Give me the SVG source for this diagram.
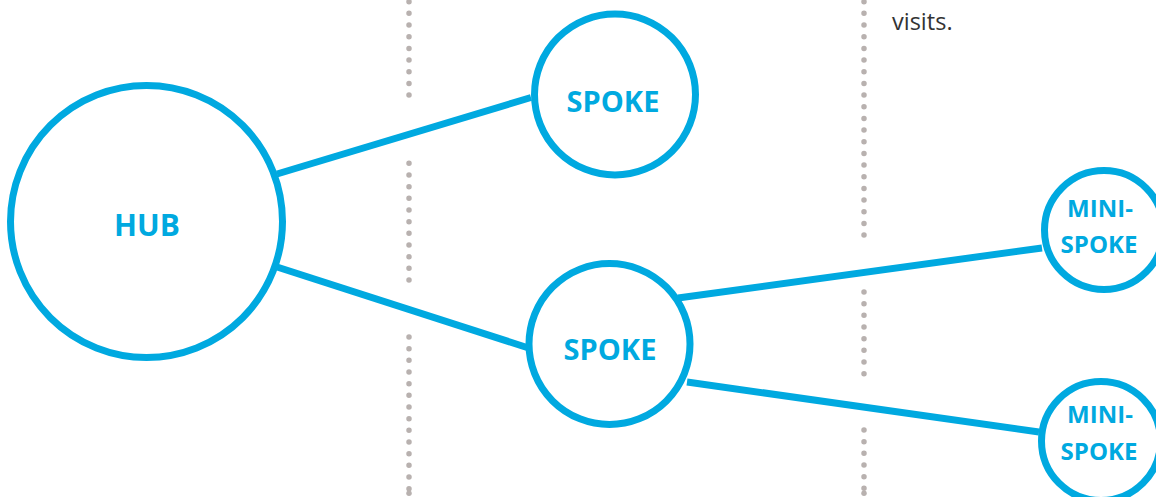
<svg xmlns="http://www.w3.org/2000/svg" width="1156" height="497" viewBox="0 0 1156 497">
<style>
.dots{fill:none;stroke:#b8b1af;stroke-width:5.5;stroke-linecap:round;stroke-dasharray:0 11.67}
.dot{fill:#b8b1af}
.edge{fill:none;stroke:#00a9e0;stroke-width:7;stroke-linecap:butt}
.node{fill:#ffffff;stroke:#00a9e0;stroke-width:7}
.lbl{font-family:"Open Sans","Noto Sans","Liberation Sans",sans-serif;font-weight:bold;fill:#00a9e0;text-anchor:middle}
.body{font-family:"Open Sans","Noto Sans","Liberation Sans",sans-serif;font-size:23.5px;fill:#333333}
</style>
<rect width="1156" height="497" fill="#ffffff"/>
<g id="dividers">
<path class="dots" d="M409 1.7V106M409 163.3V290M409 337V490"/>
<circle class="dot" cx="409" cy="493.3" r="2.75"/>
<path class="dots" d="M864 1.7V243M864 292V383M864 430V490"/>
<circle class="dot" cx="864" cy="493.3" r="2.75"/>
</g>
<g id="note">
<text class="body" x="892" y="30">visits.</text>
</g>
<g id="connectors">
<line class="edge" x1="277" y1="174" x2="531" y2="97.5"/>
<line class="edge" x1="277" y1="267" x2="527" y2="347.5"/>
<line class="edge" x1="678" y1="298" x2="1042" y2="248"/>
<line class="edge" x1="687" y1="382" x2="1039" y2="432"/>
</g>
<g id="hub">
<circle class="node" cx="146.5" cy="221.5" r="136"/>
<text class="lbl" x="147" y="235.5" font-size="30">HUB</text>
</g>
<g id="spoke1">
<circle class="node" cx="615" cy="94.5" r="80.5"/>
<text class="lbl" x="613" y="111.5" font-size="29">SPOKE</text>
</g>
<g id="spoke2">
<circle class="node" cx="609.5" cy="344" r="80.5"/>
<text class="lbl" x="610" y="360" font-size="29">SPOKE</text>
</g>
<g id="minispoke1">
<circle class="node" cx="1104" cy="230" r="59.5"/>
<text class="lbl" x="1100" y="217" font-size="24">MINI-</text>
<text class="lbl" x="1099" y="253" font-size="24">SPOKE</text>
</g>
<g id="minispoke2">
<circle class="node" cx="1101" cy="441" r="59.5"/>
<text class="lbl" x="1100" y="423" font-size="24">MINI-</text>
<text class="lbl" x="1099" y="460" font-size="24">SPOKE</text>
</g>
</svg>
